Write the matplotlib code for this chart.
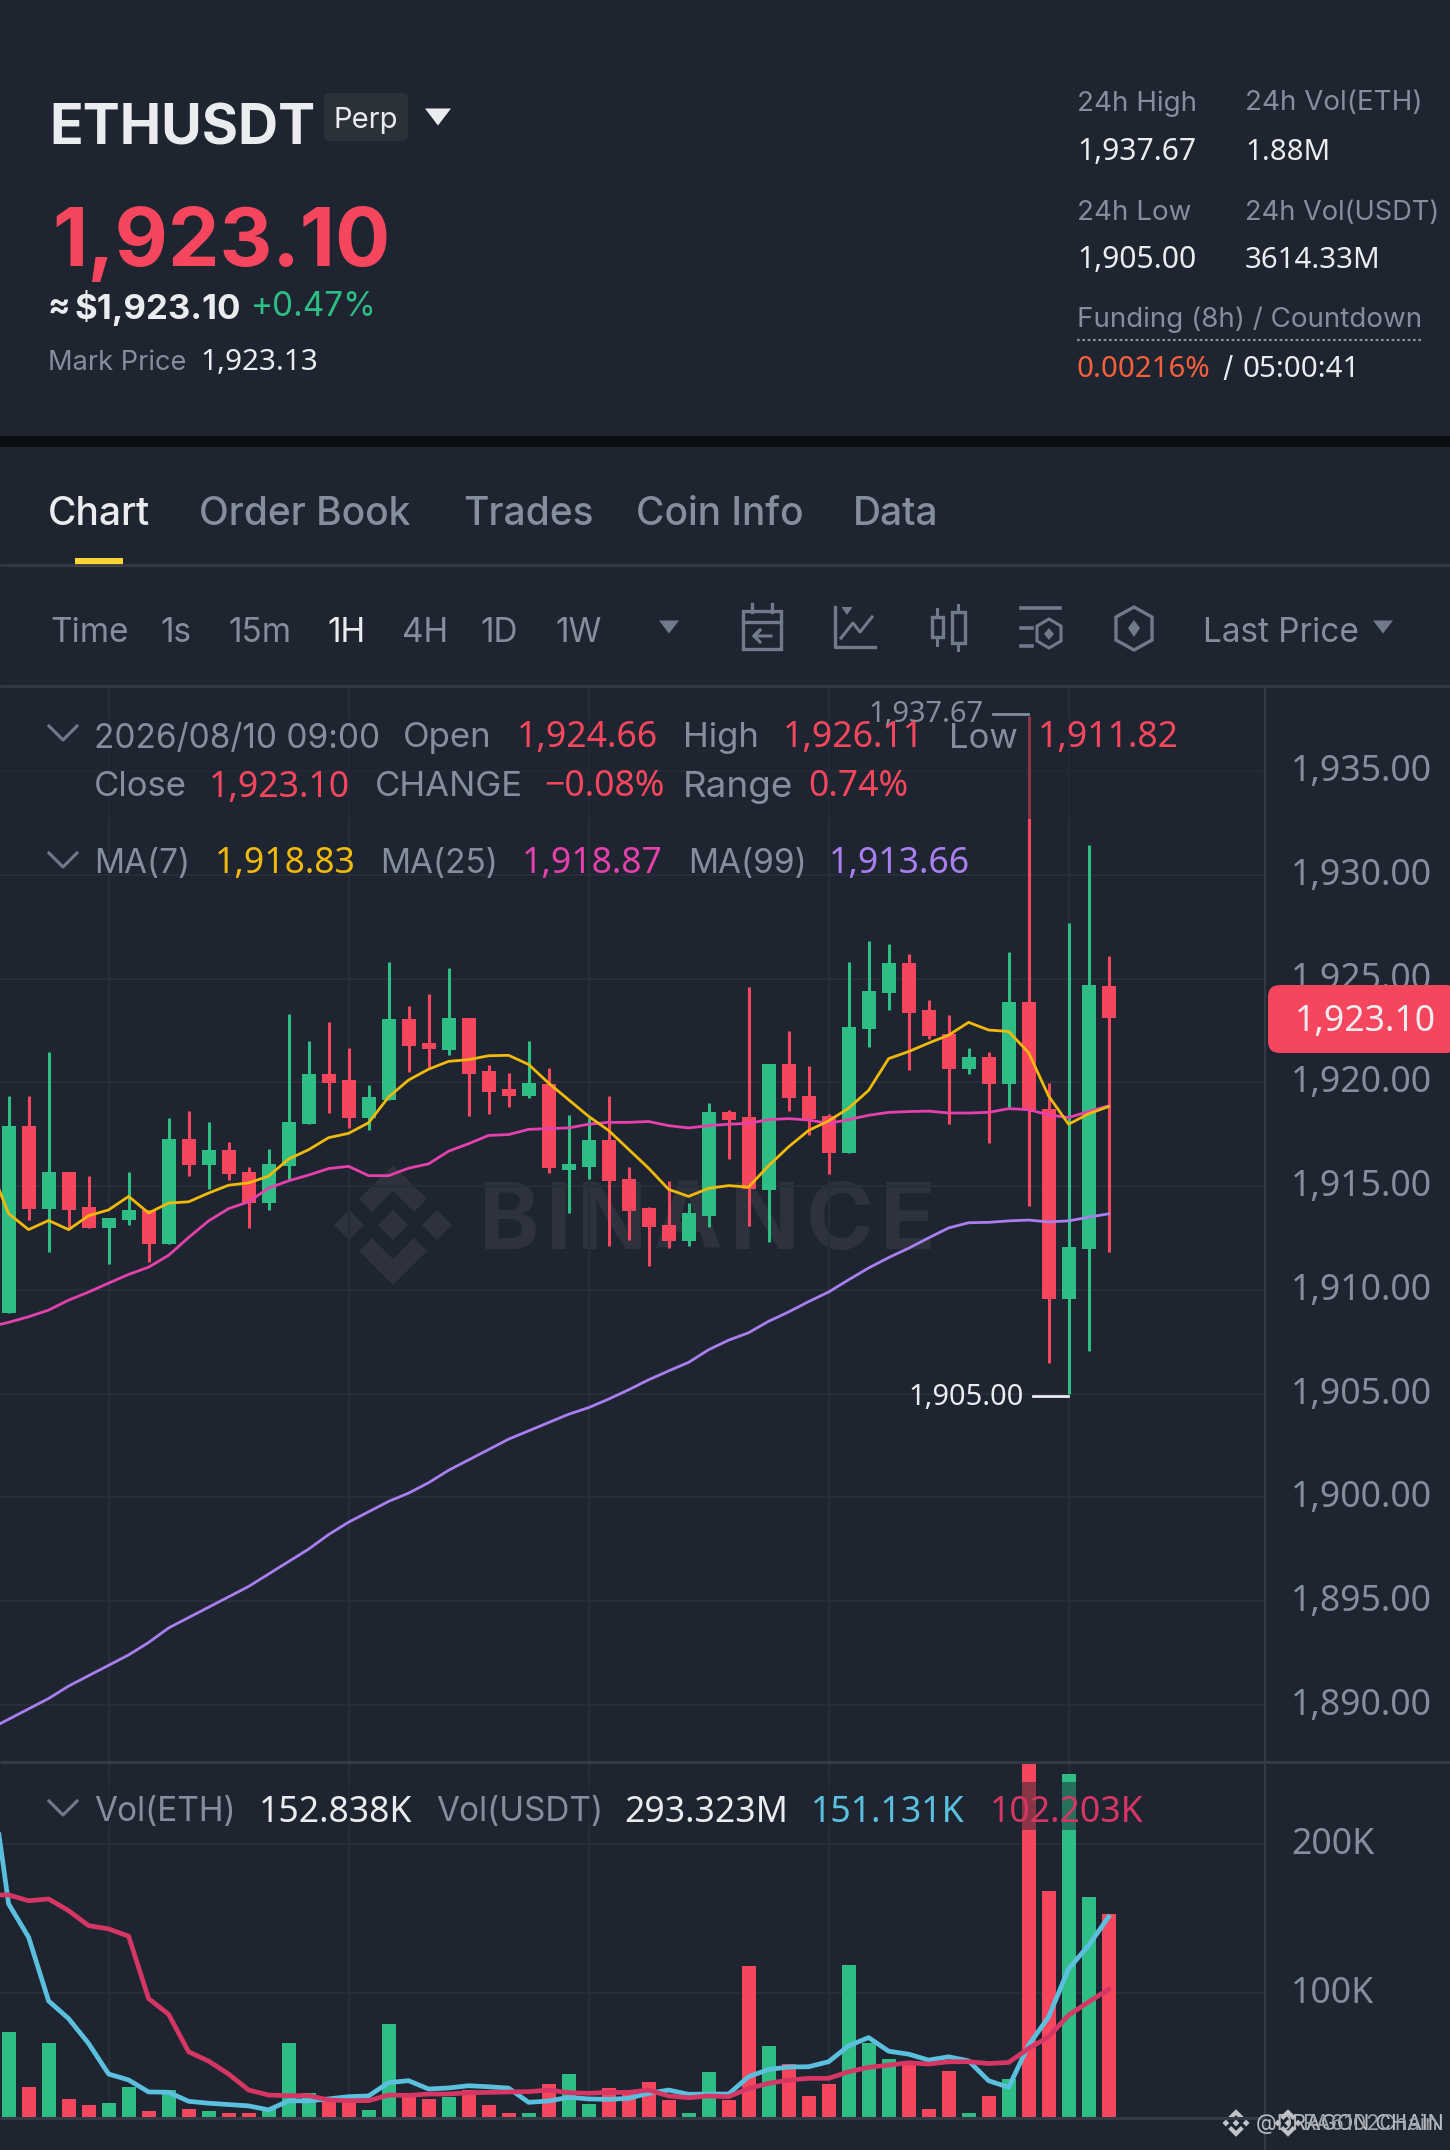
import matplotlib
matplotlib.use("Agg")
import matplotlib.pyplot as plt
from matplotlib.patches import Rectangle, FancyBboxPatch, Polygon
from matplotlib.transforms import ScaledTranslation
import numpy as np

W, H = 1450, 2150
plt.rcParams['font.family'] = ['Inter', 'DejaVu Sans']

BG = '#1e2530'
GRID = '#282e39'
SEP = '#333945'
GREEN = '#2ebd85'
RED = '#f6465d'
GRAY = '#848e9c'
WHITE = '#eaecef'
NUM = 'Noto Sans'  # digits in the reference are all one width

# candles, index 0 is the leftmost one
opens = [1908.9, 1917.9, 1913.9, 1915.7, 1914.0, 1913.0, 1913.34, 1913.85, 1912.2, 1917.25,
         1916.03, 1916.72, 1915.7, 1914.2, 1915.95, 1917.98, 1920.42, 1920.1, 1918.3, 1919.16,
         1923.05, 1921.9, 1921.58, 1923.1, 1920.53, 1919.68, 1919.33, 1919.93, 1915.75, 1915.9,
         1917.2, 1915.36, 1913.93, 1913.11, 1912.34, 1913.57, 1918.57, 1918.34, 1914.8, 1920.86,
         1919.34, 1918.36, 1916.57, 1922.55, 1924.3, 1925.77, 1923.48, 1922.34, 1920.64, 1921.2,
         1919.9, 1923.89, 1918.7, 1909.55, 1911.95, 1924.66]
closes = [1917.9, 1913.9, 1915.7, 1913.85, 1913.0, 1913.47, 1913.85, 1912.2, 1917.25, 1916.03,
          1916.72, 1915.57, 1914.2, 1916.07, 1918.1, 1920.42, 1919.96, 1918.3, 1919.3, 1923.05,
          1921.76, 1921.6, 1923.1, 1920.42, 1919.52, 1919.33, 1919.96, 1915.86, 1916.05, 1917.2,
          1915.25, 1913.82, 1913.02, 1912.34, 1913.7, 1918.57, 1918.2, 1914.84, 1920.86, 1919.23,
          1918.25, 1916.57, 1922.68, 1924.4, 1925.77, 1923.32, 1922.23, 1920.64, 1921.2, 1919.9,
          1923.89, 1918.66, 1909.55, 1912.05, 1924.7, 1923.10]
highs = [1919.35, 1919.35, 1921.45, 1915.7, 1915.5, 1913.47, 1915.7, 1913.85, 1918.3, 1918.63,
         1918.1, 1917.14, 1915.9, 1916.8, 1923.28, 1921.98, 1922.9, 1921.64, 1919.85, 1925.82,
         1923.68, 1924.24, 1925.53, 1923.1, 1920.82, 1920.44, 1921.97, 1920.7, 1918.43, 1918.3,
         1919.34, 1915.93, 1914.0, 1915.23, 1914.2, 1918.98, 1918.65, 1924.57, 1920.86, 1922.45,
         1920.8, 1918.45, 1925.82, 1926.82, 1926.66, 1926.16, 1923.98, 1923.25, 1921.66, 1921.48,
         1926.3, 1937.67, 1919.95, 1927.66, 1931.43, 1926.11]
lows = [1908.9, 1913.38, 1911.8, 1913.0, 1913.0, 1911.26, 1913.1, 1911.34, 1912.2, 1915.5,
        1914.85, 1915.29, 1913.0, 1913.85, 1915.29, 1917.98, 1918.53, 1917.82, 1917.7, 1919.16,
        1920.48, 1920.73, 1921.3, 1918.38, 1918.47, 1918.82, 1919.26, 1915.64, 1913.7, 1915.36,
        1912.1, 1912.41, 1911.14, 1912.0, 1912.11, 1913.02, 1916.32, 1913.09, 1912.3, 1918.64,
        1917.45, 1915.6, 1916.57, 1921.7, 1923.48, 1920.57, 1922.1, 1917.98, 1920.41, 1917.07,
        1918.7, 1914.05, 1906.48, 1905.0, 1907.05, 1911.82]

# averages start one candle earlier, off the left edge
ma7 = [1916.1, 1913.67, 1912.9, 1913.34, 1912.9, 1913.57, 1913.85, 1914.5, 1913.7, 1914.18, 1914.24,
       1914.66, 1915.04, 1915.15, 1915.48, 1916.3, 1916.75, 1917.33, 1917.54, 1918.05, 1919.29,
       1920.11, 1920.63, 1921.01, 1921.09, 1921.28, 1921.3, 1920.86, 1919.96, 1919.16, 1918.36,
       1917.68, 1916.77, 1915.86, 1914.84, 1914.5, 1914.89, 1915.02, 1914.95, 1915.98, 1916.89,
       1917.68, 1918.14, 1918.75, 1919.61, 1921.14, 1921.48, 1921.89, 1922.27, 1922.89, 1922.52,
       1922.45, 1921.43, 1919.34, 1917.98, 1918.48, 1918.83]
ma25 = [1908.2, 1908.43, 1908.7, 1909.02, 1909.5, 1909.89, 1910.32, 1910.74, 1911.09, 1911.66, 1912.52,
        1913.32, 1913.91, 1914.24, 1914.9, 1915.25, 1915.53, 1915.84, 1915.95, 1915.5, 1915.5,
        1915.86, 1916.07, 1916.68, 1917.04, 1917.44, 1917.48, 1917.73, 1917.77, 1917.8, 1917.98,
        1918.07, 1918.07, 1918.11, 1917.91, 1917.8, 1917.91, 1917.98, 1918.02, 1918.2, 1918.25,
        1918.18, 1918.02, 1918.2, 1918.41, 1918.55, 1918.59, 1918.61, 1918.52, 1918.52, 1918.55,
        1918.73, 1918.68, 1918.43, 1918.3, 1918.59, 1918.87]
ma99 = [1888.8, 1889.3, 1889.8, 1890.3, 1890.9, 1891.4, 1891.9, 1892.4, 1893.0, 1893.7, 1894.2,
        1894.7, 1895.2, 1895.7, 1896.3, 1896.9, 1897.5, 1898.2, 1898.8, 1899.3, 1899.8,
        1900.2, 1900.7, 1901.3, 1901.8, 1902.3, 1902.8, 1903.2, 1903.6, 1904.0, 1904.32,
        1904.73, 1905.18, 1905.66, 1906.09, 1906.5, 1907.11, 1907.57, 1907.93, 1908.48, 1908.93,
        1909.43, 1909.89, 1910.48, 1911.05, 1911.55, 1912.0, 1912.5, 1912.98, 1913.23, 1913.25,
        1913.32, 1913.36, 1913.27, 1913.32, 1913.5, 1913.66]

# volume in thousands
vol = [73.5, 36.1, 65.9, 28.3, 24.2, 25.3, 36.3, 20.2, 34.3, 21.3,
       20.0, 18.6, 18.8, 21.3, 65.7, 32.1, 28.7, 28.7, 20.9, 79.1,
       29.8, 28.3, 29.8, 34.3, 24.2, 18.6, 18.6, 38.1, 44.8, 24.9,
       35.4, 32.1, 39.5, 27.6, 18.6, 46.2, 27.6, 117.7, 64.1, 51.8,
       30.5, 38.3, 118.4, 65.7, 55.2, 51.1, 21.5, 46.9, 18.6, 30.5,
       41.7, 254.0, 168.8, 247.5, 164.3, 152.838]
vol_ma_a = [257.0, 159.9, 137.4, 94.4, 82.5, 65.7, 45.1, 41.1, 33.0, 32.8, 26.7,
            25.4, 24.5, 23.6, 20.9, 27.0, 27.0, 28.3, 29.8, 30.3, 39.3,
            40.6, 35.0, 35.7, 37.2, 36.5, 35.6, 26.0, 26.9, 29.4, 28.3,
            28.0, 28.7, 32.1, 34.3, 31.4, 31.6, 31.6, 43.3, 48.2, 49.8,
            50.0, 53.4, 64.1, 69.7, 60.5, 58.5, 54.5, 56.7, 54.0, 40.6,
            36.1, 64.6, 83.6, 116.1, 131.8, 151.131]
vol_ma_b = [166.0, 165.9, 162.0, 163.2, 155.3, 145.2, 143.0, 138.1, 96.0, 85.4, 60.1,
            53.8, 45.1, 34.3, 30.9, 30.5, 30.5, 27.6, 27.1, 27.1, 30.9,
            30.7, 31.6, 31.6, 32.5, 32.7, 33.0, 33.2, 34.3, 32.5, 32.1,
            32.7, 32.7, 34.3, 30.3, 29.1, 30.3, 29.8, 35.4, 38.8, 41.0,
            42.2, 42.2, 46.6, 49.6, 51.1, 52.7, 51.8, 53.4, 53.4, 52.2,
            52.9, 62.3, 70.2, 84.8, 93.7, 102.203]

price_ticks = [1890, 1895, 1900, 1905, 1910, 1915, 1920, 1925, 1930, 1935]
vol_ticks = [100, 200]
vol_tick_labels = ['100K', '200K']
x_grid = [5, 17, 29, 41, 53]

fig = plt.figure(figsize=(W / 100, H / 100), dpi=100, facecolor=BG)


def px_axes(x0, y0, x1, y1, **kw):
    return fig.add_axes([x0 / W, 1 - y1 / H, (x1 - x0) / W, (y1 - y0) / H], **kw)


def style_pane(ax, ticks, labels):
    ax.set_facecolor('none')
    for s in ax.spines.values():
        s.set_visible(False)
    ax.set_xlim(-0.43, 62.82)
    ax.set_xticks(x_grid)
    ax.tick_params(axis='x', length=0, labelbottom=False)
    ax.yaxis.tick_right()
    ax.set_yticks(ticks)
    ax.set_yticklabels(labels)
    ax.tick_params(axis='y', length=0, pad=18.7, labelsize=25.6, labelcolor=GRAY, labelfontfamily=NUM)
    ax.grid(True, color=GRID, lw=1.5)
    ax.set_axisbelow(True)
    # labels sit a little above their grid line in the reference
    up = ScaledTranslation(0, 3.5 / 100, fig.dpi_scale_trans)
    for lab in ax.get_yticklabels():
        lab.set_transform(lab.get_transform() + up)


x = np.arange(len(closes))
x_ma = np.arange(-1, len(closes))
colors = [GREEN if c >= o else RED for o, c in zip(opens, closes)]

# watermark goes under the panes
back = fig.add_axes([0, 0, 1, 1], facecolor='none', zorder=-1)
back.set_xlim(0, W)
back.set_ylim(H, 0)
back.axis('off')

logo = [
    [(0, -60), (34, -26), (21, -13), (0, -34), (-21, -13), (-34, -26)],
    [(0, 60), (34, 26), (21, 13), (0, 34), (-21, 13), (-34, 26)],
    [(-59, 0), (-44, -15), (-29, 0), (-44, 15)],
    [(59, 0), (44, -15), (29, 0), (44, 15)],
    [(0, -15), (15, 0), (0, 15), (-15, 0)],
]
for part in logo:
    back.add_patch(Polygon([(393 + a, 1225 + b) for a, b in part], color='#2d323d', lw=0))
for ch, px in zip('BINANCE', [509, 559, 612, 688, 765, 840, 908]):
    back.text(px, 1225, ch, color='#2d323d', fontsize=66, fontweight='bold', ha='center', va='center')

# price pane
ax = px_axes(0, 686, 1265, 1762)
style_pane(ax, price_ticks, [f'{p:,.2f}' for p in price_ticks])
ax.set_ylim(1887.24, 1939.1)
ax.vlines(x, lows, highs, colors=colors, lw=2.2, zorder=3)
body_low = np.minimum(opens, closes)
body_h = np.abs(np.array(closes) - np.array(opens))
ax.bar(x, body_h, bottom=body_low, width=0.7, color=colors, zorder=3)
ax.plot(x_ma, ma99, color='#a97ff0', lw=2.0, zorder=4)
ax.plot(x_ma, ma25, color='#e640ac', lw=2.0, zorder=4)
ax.plot(x_ma, ma7, color='#f0b90b', lw=2.0, zorder=4)

# volume pane
ax2 = px_axes(0, 1762, 1265, 2117)
style_pane(ax2, vol_ticks, vol_tick_labels)
ax2.set_ylim(16.1, 255.6)
ax2.bar(x, vol, width=0.7, color=colors, zorder=3)
ax2.plot(x_ma, vol_ma_a, color='#5bc0de', lw=3.4, zorder=4)
ax2.plot(x_ma, vol_ma_b, color='#d63663', lw=3.4, zorder=5)

# overlay in pixel coordinates for everything around the chart
ui = fig.add_axes([0, 0, 1, 1], facecolor='none')
ui.set_xlim(0, W)
ui.set_ylim(H, 0)
ui.axis('off')


def txt(px, py, s, color=GRAY, size=25, weight='normal', ha='left', **kw):
    return ui.text(px, py + 2.5, s, color=color, fontsize=size, fontweight=weight, ha=ha, va='center', **kw)


def num(px, py, s, color=WHITE, size=25.6, ha='left'):
    return txt(px, py, s, color, size, ha=ha, family=NUM)


def hline(y, x0=0, x1=W, color=SEP, lw=2.0):
    ui.plot([x0, x1], [y, y], color=color, lw=lw, solid_capstyle='butt')


def tri(cx, cy, w, h, color=GRAY):
    ui.add_patch(Polygon([(cx - w / 2, cy - h / 2), (cx + w / 2, cy - h / 2), (cx, cy + h / 2)], color=color, lw=0))


# header
ui.add_patch(Rectangle((0, 436), W, 11, color='#0b0e11', lw=0))
txt(49, 127, 'ETHUSDT', WHITE, 40, 'bold')
ui.add_patch(FancyBboxPatch((324, 93), 84, 48, boxstyle='round,pad=0,rounding_size=6', color='#2b3139', lw=0))
txt(366, 118, 'Perp', WHITE, 21, ha='center')
tri(438, 117, 26, 17, WHITE)
txt(52, 242, '1,923.10', RED, 59, 'bold')
txt(48, 305, '≈', WHITE, 24, 'bold')
txt(75, 305, '$1,923.10', WHITE, 25, 'bold')
txt(251, 305, '+0.47%', GREEN, 24)
txt(48, 360, 'Mark Price', GRAY, 19.6)
num(200, 360, '1,923.13', WHITE, 21.4)

txt(1077, 101, '24h High', GRAY, 20)
txt(1245, 101, '24h Vol(ETH)', GRAY, 20)
num(1077, 150, '1,937.67', WHITE, 21.6)
num(1245, 150, '1.88M', WHITE, 21.2)
txt(1077, 210, '24h Low', GRAY, 20)
txt(1245, 210, '24h Vol(USDT)', GRAY, 19.6)
num(1077, 258, '1,905.00', WHITE, 21.6)
num(1245, 258, '3614.33M', WHITE, 21.2)
txt(1077, 317, 'Funding (8h) / Countdown', GRAY, 20)
ui.plot([1077, 1422], [340, 340], color=GRAY, lw=1.6, ls=(0, (1.2, 1.2)))
num(1077, 367, '0.00216%', '#f6603d', 21.2)
txt(1222, 367, '/', WHITE, 21)
num(1243, 367, '05:00:41', WHITE, 21.2)

# tabs
tabs = [('Chart', 48, WHITE), ('Order Book', 199, GRAY), ('Trades', 463, GRAY), ('Coin Info', 636, GRAY), ('Data', 853, GRAY)]
for s, px, c in tabs:
    txt(px, 512, s, c, 28, 'medium')
hline(565, lw=2.0)
ui.add_patch(Rectangle((75, 558), 48, 9, color='#fcd535', lw=0))

# interval row
row = [('Time', 50, GRAY), ('1s', 160, GRAY), ('15m', 228, GRAY), ('1H', 327, WHITE),
       ('4H', 402, GRAY), ('1D', 480, GRAY), ('1W', 555, GRAY), ('Last Price', 1203, GRAY)]
for s, px, c in row:
    txt(px, 631, s, c, 24)
tri(669, 627, 20, 13, '#707a8a')
tri(1383, 627, 20, 13, '#707a8a')
hline(686, lw=2.0)

# toolbar icons, plain strokes
ic = '#707a8a'
ui.add_patch(Rectangle((743, 611), 38, 38, fill=False, ec=ic, lw=2.4))
ui.plot([743, 781], [622, 622], color=ic, lw=2.4)
ui.plot([752, 752], [604, 612], color=ic, lw=2.4)
ui.plot([772, 772], [604, 612], color=ic, lw=2.4)
ui.plot([771, 754, 760, 754, 760], [636, 636, 630, 636, 642], color=ic, lw=2.2)
ui.plot([835, 835, 875], [607, 647, 647], color=ic, lw=2.4)
ui.plot([841, 853, 860, 872], [638, 623, 632, 617], color=ic, lw=2.2)
tri(847, 611, 11, 8, ic)
ui.add_patch(Rectangle((932, 617), 11, 20, fill=False, ec=ic, lw=2.4))
ui.plot([937.5, 937.5], [609, 617], color=ic, lw=2.2)
ui.plot([937.5, 937.5], [637, 645], color=ic, lw=2.2)
ui.add_patch(Rectangle((952, 612), 13, 31, fill=False, ec=ic, lw=2.4))
ui.plot([958.5, 958.5], [605, 612], color=ic, lw=2.2)
ui.plot([958.5, 958.5], [643, 650], color=ic, lw=2.2)
ui.plot([1021, 1060], [608, 608], color=ic, lw=2.6)
ui.plot([1021, 1032], [628, 628], color=ic, lw=2.6)
ui.plot([1021, 1032], [646, 646], color=ic, lw=2.6)
ui.add_patch(Polygon([(1049, 619), (1061, 626), (1061, 641), (1049, 648), (1037, 641), (1037, 626)], fill=False, ec=ic, lw=2.2))
ui.add_patch(Polygon([(1049, 628), (1054, 634), (1049, 640), (1044, 634)], color=ic, lw=0))
ui.add_patch(Polygon([(1134, 607), (1152, 617), (1152, 640), (1134, 650), (1116, 640), (1116, 617)], fill=False, ec=ic, lw=2.4))
ui.add_patch(Polygon([(1134, 620), (1140, 628), (1134, 637), (1128, 628)], color=ic, lw=0))

# pane borders
ui.plot([1265, 1265], [686, 2150], color=SEP, lw=1.6)
hline(1762, lw=2.2)
hline(2118, x1=1265, lw=2.2)

# dimmed legend rows over the tall wicks
ui.add_patch(Rectangle((0, 714), 1265, 105, color=BG, alpha=0.5, lw=0))
ui.add_patch(Rectangle((0, 1782), 1265, 48, color=BG, alpha=0.5, lw=0))

# high and low markers
num(983, 712, '1,937.67', GRAY, 20.9, ha='right')
ui.plot([993, 1028], [714, 714], color=GRAY, lw=2)
num(1024, 1395, '1,905.00', WHITE, 20.9, ha='right')
ui.plot([1033, 1068], [1396, 1396], color=WHITE, lw=2)


def chevron(cx, cy):
    ui.plot([cx - 14, cx, cx + 14], [cy - 7, cy + 7, cy - 7], color='#707a8a', lw=2.2)


# legend rows
chevron(63, 733)
txt(94, 736, '2026/08/10 09:00', GRAY, 24)
txt(403, 736, 'Open', GRAY)
num(517, 736, '1,924.66', RED)
txt(683, 736, 'High', GRAY)
num(783, 736, '1,926.11', RED)
txt(949, 736, 'Low', GRAY)
num(1038, 736, '1,911.82', RED)

txt(94, 785, 'Close', GRAY)
num(209, 785, '1,923.10', RED)
txt(375, 785, 'CHANGE', GRAY)
num(544, 785, '−0.08%', RED)
txt(683, 785, 'Range', GRAY, 26.5)
num(808, 785, '0.74%', RED)

chevron(63, 860)
txt(94, 862, 'MA(7)', GRAY, 24)
num(215, 862, '1,918.83', '#f0b90b')
txt(380, 862, 'MA(25)', GRAY, 24)
num(522, 862, '1,918.87', '#e640ac')
txt(688, 862, 'MA(99)', GRAY, 24)
num(829, 862, '1,913.66', '#a97ff0')

chevron(63, 1808)
txt(94, 1810, 'Vol(ETH)', GRAY, 24)
num(259, 1810, '152.838K')
txt(436, 1810, 'Vol(USDT)', GRAY, 24)
num(624, 1810, '293.323M')
num(811, 1810, '151.131K', '#5bc0de')
num(990, 1810, '102.203K', '#d63663')

# last price tag
ui.add_patch(FancyBboxPatch((1268, 985), 190, 68, boxstyle='round,pad=0,rounding_size=12', color=RED, lw=0))
num(1365, 1020, '1,923.10', WHITE, ha='center')

# two reposted watermarks on top of each other, bottom right
for cx in [1236, 1288]:
    for part in logo:
        ui.add_patch(Polygon([(cx + a * 0.23, 2123 + b * 0.23) for a, b in part], color='#c0c3c8', lw=0))
txt(1256, 2121, '@DRAGON CHAIN', '#b8bbc1', 15.5)
txt(1302, 2121, 'RA6102Chain', '#a0a5ad', 15.5)

fig.savefig('out.png', dpi=100, facecolor=BG)
